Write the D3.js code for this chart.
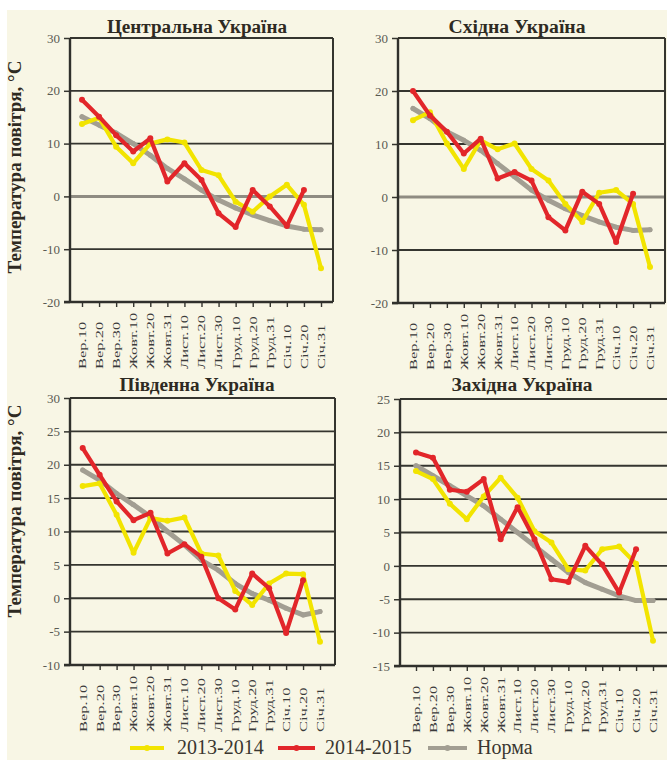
<!DOCTYPE html>
<html>
<head>
<meta charset="utf-8">
<script src="https://cdn.jsdelivr.net/npm/d3@7"></script>
<style>
  html, body { margin: 0; padding: 0; background: #ffffff; }
  svg { display: block; }
</style>
</head>
<body>
<svg id="chart" width="667" height="760"></svg>
<script>
// ---------------- DATA ----------------
const categories = ["Вер.10","Вер.20","Вер.30","Жовт.10","Жовт.20","Жовт.31","Лист.10","Лист.20","Лист.30","Груд.10","Груд.20","Груд.31","Січ.10","Січ.20","Січ.31"];
const seriesNames = ["2013-2014", "2014-2015", "Норма"];
const panelTitles = ["Центральна Україна", "Східна Україна", "Південна Україна", "Західна Україна"];
const yAxisTitle = "Температура повітря, °С";

const centralY1314 = [13.7, 14.9, 9.4, 6.3, 10.0, 10.8, 10.2, 5.0, 4.0, -1.0, -2.9, 0.0, 2.2, -1.6, -13.6];
const centralY1415 = [18.3, 15.1, 11.6, 8.5, 11.0, 2.8, 6.3, 3.1, -3.2, -5.8, 1.2, -1.9, -5.6, 1.2];
const centralNorm  = [15.1, 13.5, 12.0, 10.0, 7.8, 5.3, 3.3, 1.2, -0.7, -2.2, -3.5, -4.6, -5.6, -6.2, -6.3];

const eastY1314 = [14.5, 16.0, 10.1, 5.3, 10.7, 9.0, 10.1, 5.3, 3.1, -1.3, -4.7, 0.8, 1.3, -1.3, -13.2];
const eastY1415 = [20.0, 15.4, 12.3, 8.2, 11.0, 3.5, 4.7, 3.1, -3.8, -6.3, 1.0, -1.3, -8.5, 0.6];
const eastNorm  = [16.7, 14.8, 12.3, 10.7, 8.8, 6.3, 3.8, 1.3, -0.6, -2.2, -3.5, -4.7, -5.7, -6.3, -6.2];

const southY1314 = [16.8, 17.2, 12.5, 6.8, 12.0, 11.6, 12.1, 6.7, 6.4, 1.1, -1.0, 2.2, 3.7, 3.6, -6.5];
const southY1415 = [22.5, 18.5, 14.5, 11.7, 12.8, 6.7, 8.1, 6.2, 0.0, -1.7, 3.7, 1.5, -5.2, 2.7];
const southNorm  = [19.2, 17.7, 15.7, 14.0, 12.2, 10.0, 8.0, 5.7, 4.2, 2.2, 0.7, -0.3, -1.5, -2.5, -2.0];

const westY1314 = [14.2, 13.0, 9.3, 7.0, 10.4, 13.2, 10.2, 5.2, 3.5, -0.5, -0.7, 2.5, 2.9, 0.3, -11.2];
const westY1415 = [17.0, 16.2, 11.4, 11.1, 13.0, 4.0, 8.8, 4.0, -2.0, -2.4, 3.0, 0.2, -4.0, 2.5];
const westNorm  = [15.0, 13.5, 12.0, 10.5, 9.0, 7.0, 5.0, 3.0, 1.0, -1.0, -2.5, -3.5, -4.5, -5.2, -5.2];

const ticksCentral = [-20, -10, 0, 10, 20, 30];
const ticksEast    = [-20, -10, 0, 10, 20, 30];
const ticksSouth   = [-10, -5, 0, 5, 10, 15, 20, 25, 30];
const ticksWest    = [-15, -10, -5, 0, 5, 10, 15, 20, 25];

// ---------------- STYLE / LAYOUT ----------------
const colors = { y1314: "#f2e400", y1415: "#e2262a", norm: "#a29e92" };
const serif = "'Liberation Serif', 'Times New Roman', serif";

const panels = [
  { title: panelTitles[0], s1: centralY1314, s2: centralY1415, n: centralNorm, ticks: ticksCentral,
    left: 70, right: 333, top: 38, bottom: 302, x0: 82, x1: 321, zeroGray: true, rightBorder: true,
    titleX: 197, titleY: 33, titleLen: 180, yLabel: true, yLabelY: 167 },
  { title: panelTitles[1], s1: eastY1314, s2: eastY1415, n: eastNorm, ticks: ticksEast,
    left: 398, right: 665, top: 38, bottom: 303, x0: 413, x1: 650, zeroGray: true, rightBorder: true,
    titleX: 517, titleY: 33, titleLen: 137, yLabel: false },
  { title: panelTitles[2], s1: southY1314, s2: southY1415, n: southNorm, ticks: ticksSouth,
    left: 70, right: 335, top: 398, bottom: 665, x0: 82.7, x1: 320, zeroGray: false, rightBorder: true,
    titleX: 197, titleY: 391, titleLen: 155, yLabel: true, yLabelY: 511 },
  { title: panelTitles[3], s1: westY1314, s2: westY1415, n: westNorm, ticks: ticksWest,
    left: 400, right: 700, top: 399, bottom: 666, x0: 416, x1: 653, zeroGray: false, rightBorder: false,
    titleX: 522, titleY: 391, titleLen: 141, yLabel: false }
];

const svg = d3.select("#chart");
svg.append("rect").attr("x", 0).attr("y", 0).attr("width", 667).attr("height", 760).attr("fill", "#ffffff");
svg.append("rect").attr("x", 7).attr("y", 10).attr("width", 660).attr("height", 750).attr("fill", "#f8f6e5");

function drawPanel(p) {
  const g = svg.append("g");
  const x = d3.scalePoint().domain(categories).range([p.x0, p.x1]);
  const dom = [d3.min(p.ticks), d3.max(p.ticks)];
  const y = d3.scaleLinear().domain(dom).range([p.bottom, p.top]);

  g.selectAll("line.grid")
    .data(p.ticks.filter(t => t !== dom[0]))
    .join("line")
    .attr("x1", p.left).attr("x2", p.right)
    .attr("y1", d => y(d)).attr("y2", d => y(d))
    .attr("stroke", d => (d === 0 && p.zeroGray) ? "#8f8c82" : "#35352f")
    .attr("stroke-width", d => (d === 0 && p.zeroGray) ? 3 : 1.8);

  if (p.rightBorder) {
    g.append("line").attr("x1", p.right).attr("x2", p.right).attr("y1", p.top).attr("y2", p.bottom)
      .attr("stroke", "#35352f").attr("stroke-width", 2);
  }

  const yAxis = d3.axisLeft(y).tickValues(p.ticks).tickSize(6).tickPadding(4).tickFormat(d => String(d));
  const ya = g.append("g").attr("transform", `translate(${p.left},0)`).call(yAxis);
  ya.select(".domain").remove();
  ya.selectAll(".tick line").attr("stroke", "#35352f").attr("stroke-width", 1.5);
  ya.selectAll(".tick text").attr("font-family", serif).attr("font-size", 13).attr("fill", "#5a5a52");
  g.append("line").attr("x1", p.left).attr("x2", p.left).attr("y1", p.top).attr("y2", p.bottom + 1)
    .attr("stroke", "#30302c").attr("stroke-width", 2.4);

  const xAxis = d3.axisBottom(x).tickSize(5).tickFormat("");
  const xa = g.append("g").attr("transform", `translate(0,${p.bottom})`).call(xAxis);
  xa.select(".domain").remove();
  xa.selectAll(".tick line").attr("stroke", "#35352f").attr("stroke-width", 1.4);
  g.append("line").attr("x1", p.left - 6).attr("x2", p.right).attr("y1", p.bottom).attr("y2", p.bottom)
    .attr("stroke", "#30302c").attr("stroke-width", 2.4);

  const labels = g.selectAll("text.xl").data(categories).join("text")
    .attr("class", "xl")
    .attr("transform", d => `translate(${x(d)},${p.bottom + 67}) rotate(-90)`)
    .attr("dy", "0.35em")
    .attr("text-anchor", "start")
    .attr("font-family", serif).attr("font-size", 11).attr("fill", "#3a3a3a")
    .text(d => d);
  labels.each(function () {
    const L = this.getComputedTextLength();
    d3.select(this).attr("textLength", L * 1.5).attr("lengthAdjust", "spacingAndGlyphs");
  });

  const line = d3.line().x((d, i) => x(categories[i])).y(d => y(d));
  const series = [
    { vals: p.n, color: colors.norm, w: 5, r: 2.5 },
    { vals: p.s1, color: colors.y1314, w: 4.2, r: 3 },
    { vals: p.s2, color: colors.y1415, w: 4.2, r: 3 }
  ];
  series.forEach(s => {
    g.append("path").datum(s.vals).attr("d", line).attr("fill", "none")
      .attr("stroke", s.color).attr("stroke-width", s.w).attr("stroke-linejoin", "round").attr("stroke-linecap", "round");
    g.selectAll(null).data(s.vals).join("circle")
      .attr("cx", (d, i) => x(categories[i])).attr("cy", d => y(d)).attr("r", s.r).attr("fill", s.color);
  });

  g.append("text").attr("x", p.titleX).attr("y", p.titleY).attr("text-anchor", "middle")
    .attr("font-family", serif).attr("font-weight", "bold").attr("font-size", 18).attr("fill", "#2e2a22")
    .attr("textLength", p.titleLen).attr("lengthAdjust", "spacingAndGlyphs")
    .text(p.title);

  if (p.yLabel) {
    g.append("text").attr("transform", `translate(21,${p.yLabelY}) rotate(-90)`).attr("text-anchor", "middle")
      .attr("font-family", serif).attr("font-weight", "bold").attr("font-size", 18).attr("fill", "#2e2a22")
      .attr("textLength", 213).attr("lengthAdjust", "spacingAndGlyphs")
      .text(yAxisTitle);
  }
}

panels.forEach(drawPanel);

const legendItems = [
  { name: seriesNames[0], color: colors.y1314, x1: 130, x2: 164, tx: 177 },
  { name: seriesNames[1], color: colors.y1415, x1: 278, x2: 315, tx: 325 },
  { name: seriesNames[2], color: colors.norm, x1: 428, x2: 467, tx: 477 }
];
const lg = svg.append("g");
const ly = 748;
legendItems.forEach(it => {
  lg.append("line").attr("x1", it.x1).attr("x2", it.x2).attr("y1", ly).attr("y2", ly)
    .attr("stroke", it.color).attr("stroke-width", 4);
  lg.append("circle").attr("cx", (it.x1 + it.x2) / 2).attr("cy", ly).attr("r", 3).attr("fill", it.color);
  lg.append("text").attr("x", it.tx).attr("y", ly + 6).attr("font-family", serif).attr("font-size", 20)
    .attr("fill", "#3a3630").text(it.name);
});
</script>
</body>
</html>
